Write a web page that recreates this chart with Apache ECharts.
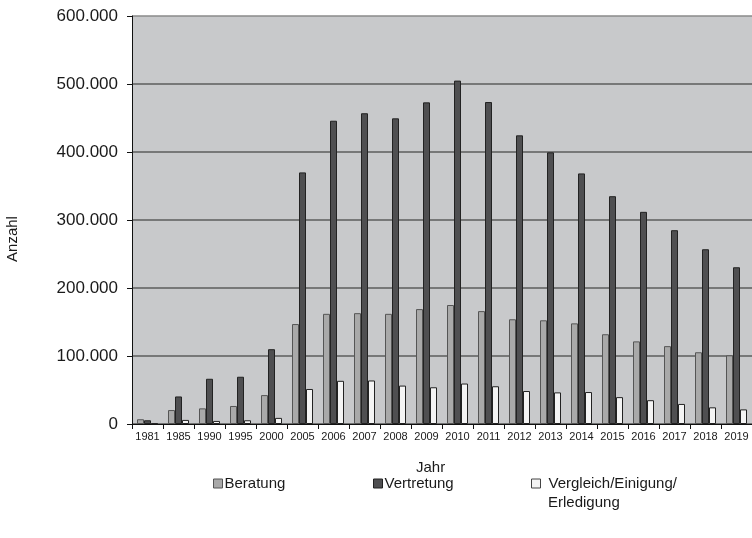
<!DOCTYPE html>
<html>
<head>
<meta charset="utf-8">
<script src="https://cdn.jsdelivr.net/npm/echarts@6/dist/echarts.min.js"></script>
<style>
  html, body { margin: 0; padding: 0; background: #fff; }
  #chart { width: 752px; height: 538px; }
</style>
</head>
<body>
<div id="chart"></div>
<script>
// Jahre (Kategorien der x-Achse)
const jahre = ['1981', '1985', '1990', '1995', '2000', '2005', '2006', '2007', '2008', '2009',
  '2010', '2011', '2012', '2013', '2014', '2015', '2016', '2017', '2018', '2019'];

// Anzahl je Jahr und Kategorie
const beratung = [7000, 20500, 23000, 26500, 42500, 147000, 162000, 163000, 162000, 169000,
  175000, 166000, 154000, 152500, 148000, 132000, 121500, 114500, 105500, 101000];
const vertretung = [5500, 40500, 66500, 69500, 110000, 370000, 446000, 457000, 449500, 473000,
  505000, 473500, 424500, 399500, 368500, 335000, 312000, 285000, 257000, 230500];
const vergleich = [1000, 6000, 4500, 5500, 9000, 51500, 63500, 64000, 56500, 54000,
  59500, 55500, 48500, 46500, 47000, 39500, 35000, 29500, 24500, 21500];

// y-Achse: Schritte und Beschriftung mit Tausenderpunkt
const yMax = 600000;
const yStep = 100000;

const fmt = v => v === 0 ? '0' : String(v).replace(/\B(?=(\d{3})+(?!\d))/g, '.');

const FONT = '"Liberation Sans", Arial, sans-serif';
const TXT = '#1a1a1a';

const chart = echarts.init(document.getElementById('chart'), null, { renderer: 'canvas' });

const legendText = { fontFamily: FONT, fontSize: 15, color: TXT };

chart.setOption({
  animation: false,
  backgroundColor: '#ffffff',
  textStyle: { fontFamily: FONT, color: TXT },
  grid: {
    left: 132, top: 16, width: 623, height: 408,
    show: true, backgroundColor: '#c8c9cb', borderWidth: 0
  },
  legend: [
    {
      left: 213, top: 476, padding: 0, icon: 'rect', itemWidth: 9, itemHeight: 9, itemGap: 0,
      textStyle: Object.assign({ padding: [0, 0, 0, -3] }, legendText),
      data: [{ name: 'Beratung', itemStyle: { color: '#a9a9a9', borderColor: '#555', borderWidth: 1 } }]
    },
    {
      left: 373, top: 476, padding: 0, icon: 'rect', itemWidth: 9, itemHeight: 9, itemGap: 0,
      textStyle: Object.assign({ padding: [0, 0, 0, -3] }, legendText),
      data: [{ name: 'Vertretung', itemStyle: { color: '#4f4f51', borderColor: '#222', borderWidth: 1 } }]
    },
    {
      left: 531, top: 476, padding: 0, icon: 'rect', itemWidth: 9, itemHeight: 9, itemGap: 0,
      formatter: () => 'Vergleich/Einigung/',
      textStyle: Object.assign({ padding: [0, 0, 0, 3] }, legendText),
      data: [{ name: 'Vergleich/Einigung/Erledigung', itemStyle: { color: '#f4f4f4', borderColor: '#444', borderWidth: 1 } }]
    }
  ],
  graphic: [
    {
      type: 'text', left: 548, top: 495,
      style: { text: 'Erledigung', font: '15px ' + FONT, fill: TXT }
    },
    {
      type: 'text', left: 416, top: 460,
      style: { text: 'Jahr', font: '15px ' + FONT, fill: TXT }
    },
    {
      type: 'text', x: 13, y: 239, rotation: Math.PI / 2,
      style: { text: 'Anzahl', font: '15px ' + FONT, fill: TXT, align: 'center', verticalAlign: 'middle' }
    }
  ],
  xAxis: {
    type: 'category',
    data: jahre,
    axisLine: { lineStyle: { color: '#111', width: 1 } },
    axisTick: { show: true, length: 5, alignWithLabel: false, lineStyle: { color: '#111' } },
    axisLabel: { interval: 0, margin: 7, fontSize: 11, fontFamily: FONT, color: TXT },
    splitLine: { show: false }
  },
  yAxis: {
    type: 'value',
    min: 0, max: yMax, interval: yStep,
    axisLine: { show: true, lineStyle: { color: '#111', width: 1 } },
    axisTick: { show: true, length: 5, inside: false, lineStyle: { color: '#111' } },
    axisLabel: { formatter: fmt, fontSize: 17, fontFamily: FONT, color: TXT, margin: 14 },
    splitLine: {
      show: true,
      lineStyle: { color: ['#555', '#5c5c5c', '#5c5c5c', '#5c5c5c', '#5c5c5c', '#5c5c5c', '#8a8a8a'], width: 1.5 }
    }
  },
  series: [
    {
      name: 'Beratung', type: 'bar', data: beratung, barWidth: 7, barGap: '0%',
      itemStyle: { color: '#a9a9a9', borderColor: '#555', borderWidth: 1 }
    },
    {
      name: 'Vertretung', type: 'bar', data: vertretung, barWidth: 7, barGap: '0%',
      itemStyle: { color: '#4f4f51', borderColor: '#222', borderWidth: 1 }
    },
    {
      name: 'Vergleich/Einigung/Erledigung', type: 'bar', data: vergleich, barWidth: 7, barGap: '0%',
      itemStyle: { color: '#f4f4f4', borderColor: '#222', borderWidth: 1 }
    }
  ]
});
</script>
</body>
</html>
